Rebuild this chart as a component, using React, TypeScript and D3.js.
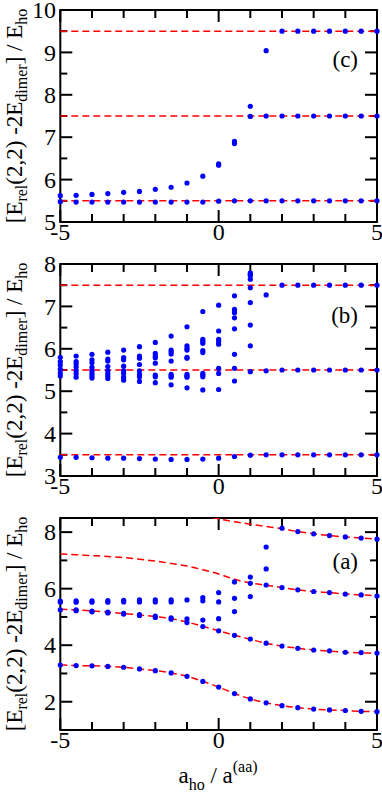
import React from "react";
import * as d3 from "d3";

// ---------- data ----------
const xTicksMajor = [-5, 0, 5];
const xTicksMinor = [-4, -3, -2, -1, 1, 2, 3, 4];

// panel (c)
const cPoints: [number, number[]][] = [
  [-5, [5.62, 5.48]],
  [-4.5, [5.63, 5.47]],
  [-4, [5.65, 5.47]],
  [-3.5, [5.67, 5.47]],
  [-3, [5.7, 5.47]],
  [-2.5, [5.72, 5.47]],
  [-2, [5.77, 5.47]],
  [-1.5, [5.82, 5.47]],
  [-1, [5.92, 5.47]],
  [-0.5, [6.08, 5.47]],
  [0, [6.37, 6.34, 5.49]],
  [0.5, [6.9, 6.85, 5.5]],
  [1, [7.73, 7.49, 5.5]],
  [1.5, [9.04, 7.5, 5.5]],
  [2, [9.5, 7.5, 5.5]],
  [2.5, [9.5, 7.5, 5.5]],
  [3, [9.5, 7.5, 5.5]],
  [3.5, [9.5, 7.5, 5.5]],
  [4, [9.5, 7.5, 5.5]],
  [4.5, [9.5, 7.5, 5.5]],
  [5, [9.5, 7.5, 5.5]],
];
const cLevels = [5.5, 7.5, 9.5];

// panel (b)
const bPoints: [number, number[]][] = [
  [-5, [5.8, 5.7, 5.62, 5.52, 5.43, 5.36, 3.44]],
  [-4.5, [5.83, 5.7, 5.64, 5.57, 5.48, 5.41, 5.33, 3.44]],
  [-4, [5.87, 5.74, 5.67, 5.56, 5.48, 5.42, 5.36, 5.31, 3.43]],
  [-3.5, [5.92, 5.76, 5.71, 5.58, 5.48, 5.42, 5.36, 5.3, 3.42]],
  [-3, [5.97, 5.79, 5.74, 5.59, 5.48, 5.42, 5.33, 5.26, 3.42]],
  [-2.5, [6.05, 5.83, 5.78, 5.63, 5.48, 5.4, 5.34, 5.23, 3.41]],
  [-2, [6.15, 5.89, 5.83, 5.79, 5.66, 5.38, 5.34, 5.2, 3.4]],
  [-1.5, [6.3, 5.97, 5.93, 5.88, 5.71, 5.4, 5.36, 5.33, 5.15, 3.39]],
  [-1, [6.52, 6.07, 6.01, 5.97, 5.8, 5.78, 5.4, 5.36, 5.33, 5.08, 3.39]],
  [-0.5, [6.88, 6.22, 6.18, 6.13, 5.96, 5.91, 5.42, 5.38, 5.34, 5.03, 3.4]],
  [0, [7.03, 6.42, 6.22, 6.17, 6.11, 5.54, 5.42, 5.04, 3.42]],
  [0.5, [7.25, 6.93, 6.89, 6.85, 6.73, 6.47, 5.87, 5.54, 5.24, 3.46]],
  [1, [7.79, 7.76, 7.72, 7.64, 7.44, 7.09, 6.56, 6.07, 5.46, 3.49]],
  [1.5, [7.27, 5.48, 3.5]],
  [2, [7.5, 5.5, 3.5]],
  [2.5, [7.5, 5.5, 3.5]],
  [3, [7.5, 5.5, 3.5]],
  [3.5, [7.5, 5.5, 3.5]],
  [4, [7.5, 5.5, 3.5]],
  [4.5, [7.5, 5.5, 3.5]],
  [5, [7.5, 5.5, 3.5]],
];
const bLevels = [3.5, 5.5, 7.5];

// panel (a)
const aPoints: [number, number[]][] = [
  [-5, [5.56, 5.52, 5.25, 3.3]],
  [-4.5, [5.57, 5.52, 5.25, 5.22, 3.28]],
  [-4, [5.57, 5.52, 5.21, 5.18, 3.27]],
  [-3.5, [5.58, 5.52, 5.17, 5.14, 3.25]],
  [-3, [5.59, 5.53, 5.13, 5.1, 3.22]],
  [-2.5, [5.6, 5.53, 5.08, 5.05, 3.16]],
  [-2, [5.6, 5.53, 5.03, 4.98, 3.1]],
  [-1.5, [5.6, 5.53, 4.97, 4.92, 3.02]],
  [-1, [5.6, 4.93, 4.8, 2.9]],
  [-0.5, [5.68, 5.57, 4.89, 4.66, 2.72]],
  [0, [5.86, 5.53, 4.94, 4.51, 2.52]],
  [0.5, [6.24, 5.66, 5.19, 4.35, 2.29]],
  [1, [6.41, 6.19, 5.72, 4.22, 2.1]],
  [1.5, [7.47, 6.7, 6.13, 4.07, 1.96]],
  [2, [8.14, 6.04, 3.97, 1.86]],
  [2.5, [8.02, 5.96, 3.89, 1.79]],
  [3, [7.94, 5.9, 3.83, 1.74]],
  [3.5, [7.88, 5.86, 3.8, 1.71]],
  [4, [7.83, 5.81, 3.75, 1.69]],
  [4.5, [7.79, 5.78, 3.74, 1.66]],
  [5, [7.75, 5.74, 3.72, 1.65]],
];
const curveX = [-5, -4.5, -4, -3.5, -3, -2.5, -2, -1.5, -1, -0.5, 0, 0.5, 1, 1.5, 2, 2.5, 3, 3.5, 4, 4.5, 5];
const curve1 = [3.3, 3.28, 3.27, 3.25, 3.22, 3.16, 3.1, 3.02, 2.9, 2.72, 2.52, 2.29, 2.1, 1.96, 1.86, 1.79, 1.74, 1.71, 1.69, 1.66, 1.65];
const curve2 = [5.27, 5.25, 5.21, 5.17, 5.12, 5.07, 5.01, 4.94, 4.82, 4.67, 4.51, 4.35, 4.21, 4.07, 3.97, 3.89, 3.83, 3.79, 3.75, 3.73, 3.71];
const curve3 = [7.23, 7.2, 7.17, 7.14, 7.1, 7.04, 6.98, 6.89, 6.8, 6.67, 6.52, 6.33, 6.2, 6.12, 6.04, 5.96, 5.9, 5.86, 5.81, 5.78, 5.75];
const curve4X = [-0.2, 0, 0.5, 1, 1.5, 2, 2.5, 3, 3.5, 4, 4.5, 5];
const curve4 = [8.52, 8.47, 8.37, 8.28, 8.2, 8.12, 8.02, 7.94, 7.88, 7.83, 7.79, 7.76];

// ---------- layout ----------
const W = 382;
const H = 794;
const X0 = 60.3;
const X1 = 377;
const FONT = '"Liberation Serif", "Times New Roman", Times, serif';
const fontStyle = { fontFamily: FONT };

type Panel = {
  id: string;
  top: number;
  bottom: number;
  domain: [number, number];
  major: number[];
  minor: number[];
  labels: number[];
  points: [number, number[]][];
  levels: number[];
  curves: { xs: number[]; ys: number[] }[];
  tag: string;
  tagY: number;
};

const panels: Panel[] = [
  {
    id: "c", top: 10, bottom: 222, domain: [5, 10],
    major: [5, 6, 7, 8, 9, 10], minor: [5.5, 6.5, 7.5, 8.5, 9.5],
    labels: [5, 6, 7, 8, 9, 10], points: cPoints, levels: cLevels, curves: [],
    tag: "(c)", tagY: 67,
  },
  {
    id: "b", top: 264, bottom: 476, domain: [3, 8],
    major: [3, 4, 5, 6, 7, 8], minor: [3.5, 4.5, 5.5, 6.5, 7.5],
    labels: [3, 4, 5, 6, 7, 8], points: bPoints, levels: bLevels, curves: [],
    tag: "(b)", tagY: 323,
  },
  {
    id: "a", top: 518, bottom: 730, domain: [1, 8.5],
    major: [2, 4, 6, 8], minor: [1, 3, 5, 7],
    labels: [2, 4, 6, 8], points: aPoints, levels: [],
    curves: [
      { xs: curveX, ys: curve1 },
      { xs: curveX, ys: curve2 },
      { xs: curveX, ys: curve3 },
      { xs: curve4X, ys: curve4 },
    ],
    tag: "(a)", tagY: 569,
  },
];

const x = d3.scaleLinear().domain([-5, 5]).range([X0, X1]);

function PanelView({ p }: { p: Panel }) {
  const y = d3.scaleLinear().domain(p.domain).range([p.bottom, p.top]);
  const line = d3
    .line<[number, number]>()
    .x((d) => x(d[0]))
    .y((d) => y(d[1]))
    .curve(d3.curveMonotoneX);
  const clipId = "clip-" + p.id;
  const cy = (p.top + p.bottom) / 2;
  return (
    <g>
      <defs>
        <clipPath id={clipId}>
          <rect x={X0} y={p.top} width={X1 - X0} height={p.bottom - p.top} />
        </clipPath>
      </defs>
      <rect x={X0} y={p.top} width={X1 - X0} height={p.bottom - p.top} fill="none" stroke="#000" strokeWidth={2} />
      {[...xTicksMajor.map((t) => [t, 12]), ...xTicksMinor.map((t) => [t, 8])].map(([t, len], i) => (
        <g key={"xt" + i} stroke="#000" strokeWidth={2}>
          <line x1={x(t)} x2={x(t)} y1={p.bottom} y2={p.bottom - len} />
          <line x1={x(t)} x2={x(t)} y1={p.top} y2={p.top + len} />
        </g>
      ))}
      {[...p.major.map((t) => [t, 12]), ...p.minor.map((t) => [t, 7])].map(([t, len], i) => (
        <g key={"yt" + i} stroke="#000" strokeWidth={2}>
          <line x1={X0} x2={X0 + len} y1={y(t)} y2={y(t)} />
          <line x1={X1} x2={X1 - len} y1={y(t)} y2={y(t)} />
        </g>
      ))}
      {p.labels.map((t) => (
        <text key={"yl" + t} x={56} y={y(t)} dy="0.34em" textAnchor="end" fontSize={24} style={fontStyle}>
          {t}
        </text>
      ))}
      {xTicksMajor.map((t) => (
        <text key={"xl" + t} x={x(t)} y={p.bottom + 18} textAnchor="middle" fontSize={24} style={fontStyle}>
          {t < 0 ? "-" + Math.abs(t) : t}
        </text>
      ))}
      {p.levels.map((l) => (
        <line key={"lv" + l} x1={X0} x2={X1} y1={y(l)} y2={y(l)} stroke="#ff0000" strokeWidth={1.5} strokeDasharray="7 4" />
      ))}
      <g clipPath={`url(#${clipId})`}>
        {p.curves.map((c, i) => (
          <path
            key={"cv" + i}
            d={line(c.xs.map((xx, j) => [xx, c.ys[j]] as [number, number])) || ""}
            fill="none"
            stroke="#ff0000"
            strokeWidth={1.5}
            strokeDasharray="7 4"
          />
        ))}
      </g>
      {p.points.map(([xx, ys]) =>
        ys.map((v, j) => <circle key={"pt" + xx + "-" + j} cx={x(xx)} cy={y(v)} r={2.6} fill="#0000ff" />)
      )}
      <text x={358} y={p.tagY} textAnchor="end" fontSize={23} style={fontStyle}>
        {p.tag}
      </text>
      <text transform={`translate(22,${cy}) rotate(-90)`} textAnchor="middle" fontSize={23} style={fontStyle}>
        <tspan>[E</tspan>
        <tspan fontSize={16} dy={5}>rel</tspan>
        <tspan dy={-5}>(2,2) -2E</tspan>
        <tspan fontSize={16} dy={5}>dimer</tspan>
        <tspan dy={-5}>] / E</tspan>
        <tspan fontSize={16} dy={5}>ho</tspan>
      </text>
    </g>
  );
}

export default function App() {
  return (
    <svg width={W} height={H} style={{ position: "absolute", left: 0, top: 0, background: "#fff" }}>
      <rect x={0} y={0} width={W} height={H} fill="#fff" />
      {panels.map((p) => (
        <PanelView key={p.id} p={p} />
      ))}
      <text x={218} y={783} textAnchor="middle" fontSize={23} style={fontStyle}>
        <tspan>a</tspan>
        <tspan fontSize={16} dy={7}>ho</tspan>
        <tspan dy={-7}> / a</tspan>
        <tspan fontSize={16} dy={-11}>(aa)</tspan>
      </text>
    </svg>
  );
}
